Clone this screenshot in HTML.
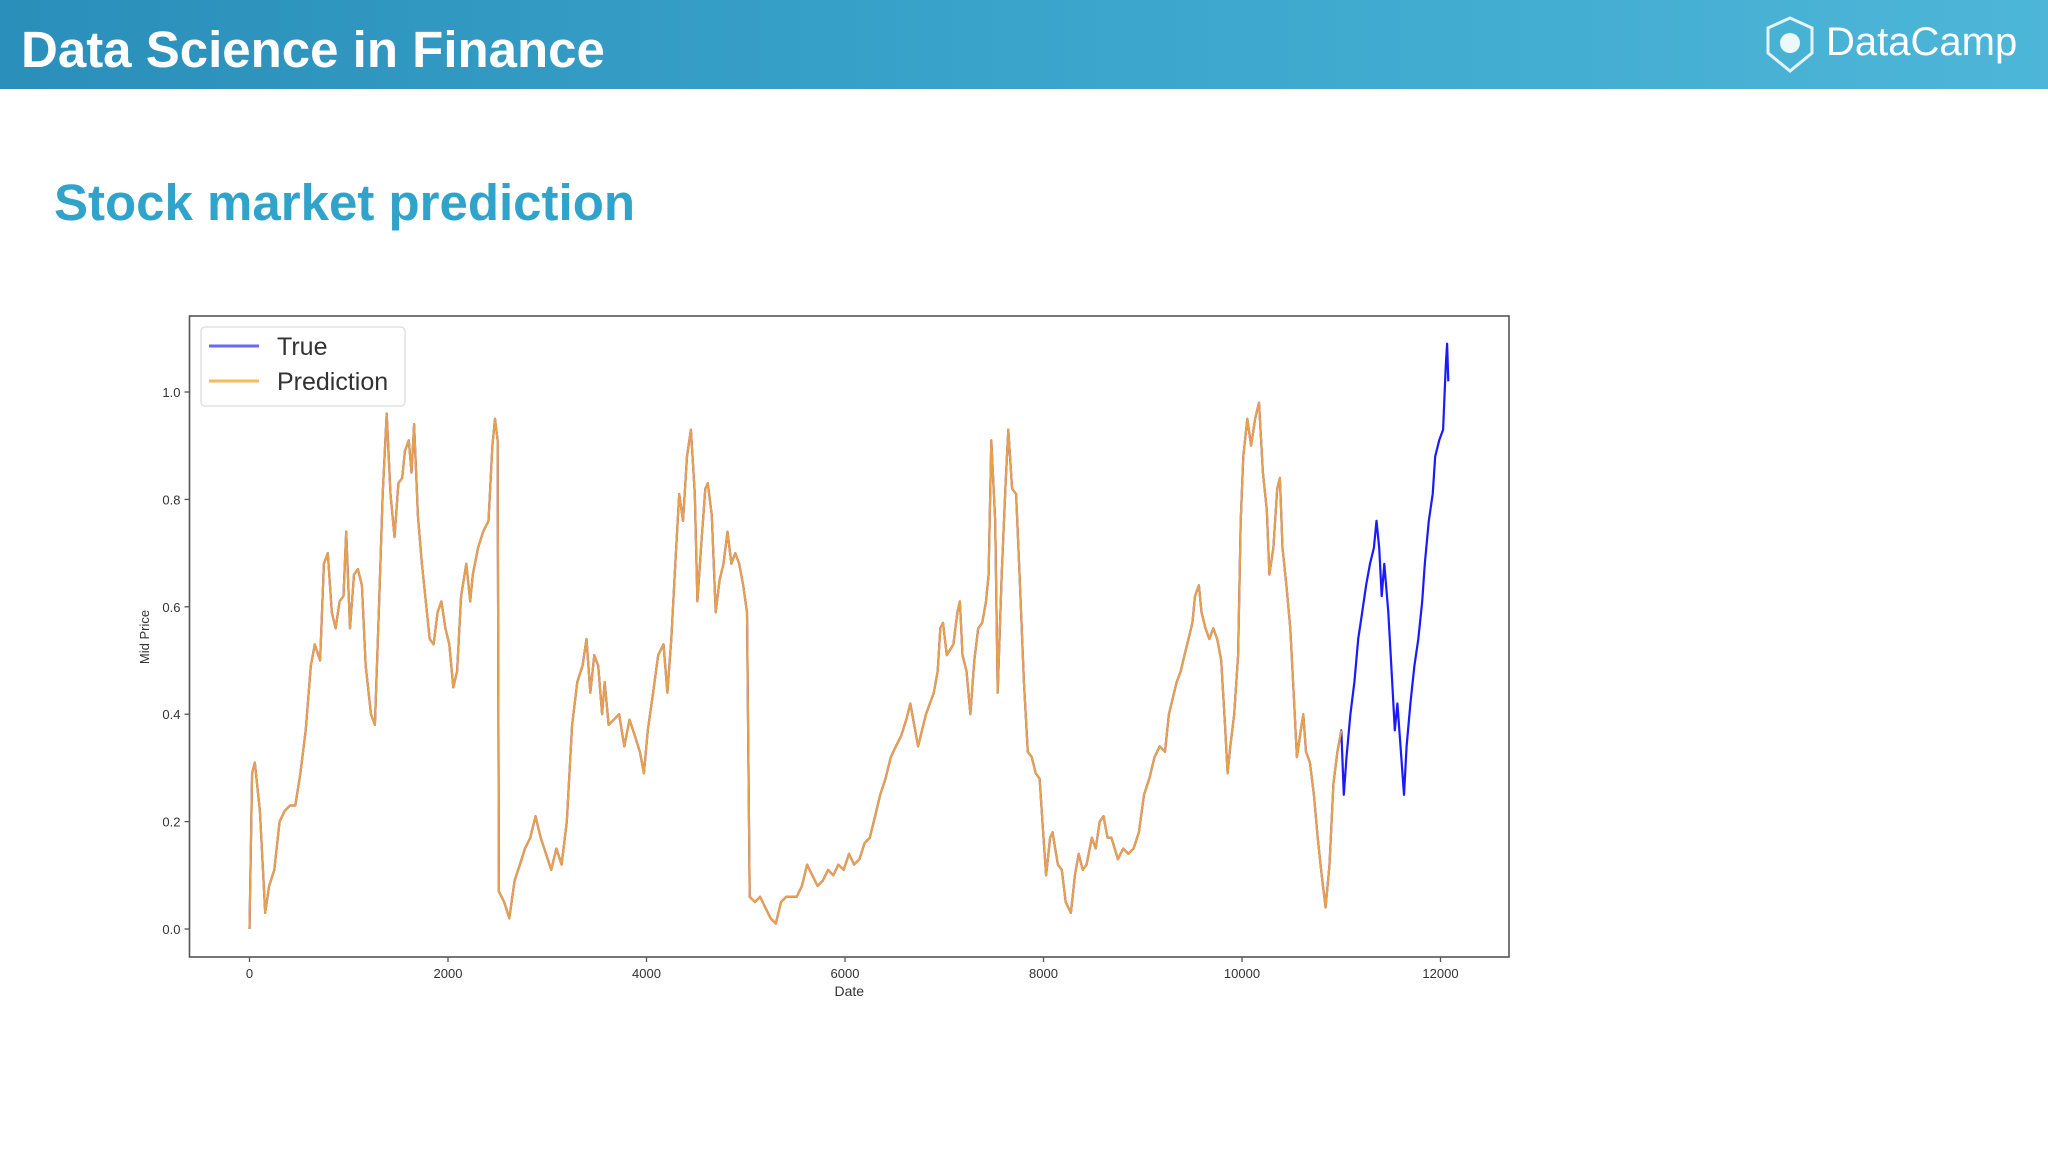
<!DOCTYPE html>
<html><head><meta charset="utf-8"><style>
html,body{margin:0;padding:0;background:#fff;}
body{width:2048px;height:1152px;position:relative;overflow:hidden;font-family:"Liberation Sans",sans-serif;}
#header{position:absolute;left:0;top:0;width:2048px;height:89px;background:linear-gradient(90deg,#2a8fba 0%,#3aa4cb 50%,#4db6d8 100%);}
#title{position:absolute;left:21px;top:20px;color:#fff;font-weight:bold;font-size:51px;}
#brand{position:absolute;left:1826px;top:20px;color:#fff;font-size:40px;}
#subtitle{position:absolute;left:54px;top:173px;color:#2fa3c9;font-weight:bold;font-size:51px;}
svg#chart{position:absolute;left:0;top:0;}
</style></head><body>
<div id="header">
<div id="title">Data Science in Finance</div>
<svg style="position:absolute;left:1762px;top:15px" width="56" height="60"><path d="M28 3 L50 13 L50 38 L28 56 L6 38 L6 13 Z" fill="none" stroke="#fff" stroke-width="3" opacity="0.85"/><circle cx="28" cy="28" r="10" fill="#fff" opacity="0.9"/></svg>
<div id="brand">DataCamp</div>
</div>
<div id="subtitle">Stock market prediction</div>
<svg id="chart" width="2048" height="1152"></svg>
<script>
const dates=[0,26,53,105,158,197,250,303,355,408,461,513,566,618,658,711,750,789,829,868,908,947,974,1013,1053,1092,1132,1171,1224,1263,1303,1342,1382,1421,1461,1500,1539,1566,1605,1632,1658,1697,1737,1776,1816,1855,1895,1934,1974,2013,2053,2092,2132,2184,2224,2250,2303,2355,2408,2447,2474,2500,2513,2566,2618,2671,2724,2776,2829,2882,2934,2987,3040,3092,3145,3197,3250,3303,3355,3395,3434,3474,3513,3553,3579,3618,3671,3724,3776,3829,3882,3934,3974,4013,4066,4118,4171,4211,4250,4290,4329,4368,4408,4447,4487,4513,4553,4592,4618,4658,4697,4737,4776,4816,4855,4895,4934,4974,5013,5040,5092,5145,5197,5250,5303,5355,5408,5461,5513,5566,5618,5671,5724,5776,5829,5882,5934,5987,6040,6092,6145,6197,6250,6303,6355,6408,6461,6513,6566,6618,6658,6697,6737,6776,6816,6855,6895,6934,6960,6987,7026,7092,7132,7158,7184,7224,7263,7303,7342,7382,7421,7447,7474,7513,7539,7579,7618,7645,7684,7724,7763,7803,7842,7882,7921,7961,8000,8026,8066,8092,8118,8145,8184,8224,8276,8316,8355,8395,8434,8487,8526,8566,8605,8645,8684,8750,8803,8855,8908,8961,9013,9066,9118,9171,9224,9263,9303,9342,9382,9421,9461,9500,9526,9566,9592,9632,9671,9711,9750,9790,9829,9855,9882,9921,9961,9987,10013,10053,10092,10132,10171,10211,10250,10276,10316,10355,10382,10408,10447,10487,10526,10553,10592,10618,10645,10684,10724,10763,10803,10842,10882,10921,10961,11000,11026,11053,11092,11132,11171,11211,11250,11290,11329,11355,11382,11408,11434,11474,11513,11540,11566,11605,11632,11658,11697,11737,11776,11816,11842,11882,11921,11947,11987,12026,12053,12066,12079];
const trueVals=[0.00,0.29,0.31,0.22,0.03,0.08,0.11,0.20,0.22,0.23,0.23,0.29,0.37,0.49,0.53,0.50,0.68,0.70,0.59,0.56,0.61,0.62,0.74,0.56,0.66,0.67,0.64,0.49,0.40,0.38,0.59,0.81,0.96,0.81,0.73,0.83,0.84,0.89,0.91,0.85,0.94,0.77,0.68,0.61,0.54,0.53,0.59,0.61,0.56,0.53,0.45,0.48,0.62,0.68,0.61,0.66,0.71,0.74,0.76,0.90,0.95,0.91,0.07,0.05,0.02,0.09,0.12,0.15,0.17,0.21,0.17,0.14,0.11,0.15,0.12,0.20,0.38,0.46,0.49,0.54,0.44,0.51,0.49,0.40,0.46,0.38,0.39,0.40,0.34,0.39,0.36,0.33,0.29,0.37,0.44,0.51,0.53,0.44,0.54,0.68,0.81,0.76,0.88,0.93,0.81,0.61,0.72,0.82,0.83,0.77,0.59,0.65,0.68,0.74,0.68,0.70,0.68,0.64,0.59,0.06,0.05,0.06,0.04,0.02,0.01,0.05,0.06,0.06,0.06,0.08,0.12,0.10,0.08,0.09,0.11,0.10,0.12,0.11,0.14,0.12,0.13,0.16,0.17,0.21,0.25,0.28,0.32,0.34,0.36,0.39,0.42,0.38,0.34,0.37,0.40,0.42,0.44,0.48,0.56,0.57,0.51,0.53,0.59,0.61,0.51,0.48,0.40,0.50,0.56,0.57,0.61,0.66,0.91,0.76,0.44,0.66,0.83,0.93,0.82,0.81,0.64,0.46,0.33,0.32,0.29,0.28,0.17,0.10,0.17,0.18,0.15,0.12,0.11,0.05,0.03,0.10,0.14,0.11,0.12,0.17,0.15,0.20,0.21,0.17,0.17,0.13,0.15,0.14,0.15,0.18,0.25,0.28,0.32,0.34,0.33,0.40,0.43,0.46,0.48,0.51,0.54,0.57,0.62,0.64,0.59,0.56,0.54,0.56,0.54,0.50,0.38,0.29,0.34,0.40,0.51,0.76,0.88,0.95,0.90,0.95,0.98,0.85,0.78,0.66,0.71,0.82,0.84,0.71,0.64,0.56,0.42,0.32,0.37,0.40,0.33,0.31,0.25,0.17,0.10,0.04,0.12,0.27,0.33,0.37,0.25,0.32,0.40,0.46,0.54,0.59,0.64,0.68,0.71,0.76,0.71,0.62,0.68,0.59,0.46,0.37,0.42,0.32,0.25,0.34,0.42,0.49,0.54,0.61,0.68,0.76,0.81,0.88,0.91,0.93,1.05,1.09,1.02];
const predEndDate=11000;
const xTicks=[0,2000,4000,6000,8000,10000,12000];
const yTicks=[0.0,0.2,0.4,0.6,0.8,1.0];
const yTickLabels=["0.0","0.2","0.4","0.6","0.8","1.0"];

const svg=document.getElementById('chart');
const NS='http://www.w3.org/2000/svg';
const L=189.5,T=316,R=1509,B=957;
function xs(d){return 249.5+(d-0)*(1440.5-249.5)/12000;}
function ys(v){return 929-v*537;}
function mk(tag,attrs){const e=document.createElementNS(NS,tag);for(const k in attrs)e.setAttribute(k,attrs[k]);svg.appendChild(e);return e;}

const frame=mk('rect',{x:L,y:T,width:R-L,height:B-T,fill:'#fff',stroke:'#555','stroke-width':1.6});



yTicks.forEach((v,i)=>{
  const t=mk('line',{x1:L-5,x2:L,y1:ys(v),y2:ys(v),stroke:'#555','stroke-width':1.3});
  
  
  const lb=mk('text',{x:L-9,y:ys(v)+5,'text-anchor':'end','font-size':13,fill:'#333','font-family':'Liberation Sans, sans-serif'});
  lb.textContent=yTickLabels[i];
  
  
});
xTicks.forEach(d=>{
  const t=mk('line',{x1:xs(d),x2:xs(d),y1:B,y2:B+5,stroke:'#555','stroke-width':1.3});
  
  
  const lb=mk('text',{x:xs(d),y:B+21,'text-anchor':'middle','font-size':13,fill:'#333','font-family':'Liberation Sans, sans-serif'});
  lb.textContent=String(d);
  
  
});
const xt=mk('text',{x:(L+R)/2,y:996,'text-anchor':'middle','font-size':14,fill:'#333','font-family':'Liberation Sans, sans-serif'});
xt.textContent='Date';


const yt=mk('text',{x:0,y:0,'text-anchor':'middle','font-size':13,fill:'#333','font-family':'Liberation Sans, sans-serif',transform:'translate(149,637) rotate(-90)'});
yt.textContent='Mid Price';



let pt='';
dates.forEach((d,i)=>{pt+=(i?'L':'M')+xs(d).toFixed(1)+' '+ys(trueVals[i]).toFixed(1);});
const tl=mk('path',{d:pt,fill:'none',stroke:'#1a1aff','stroke-width':2.2,'stroke-linejoin':'round'});


let pp='';let first=true;
dates.forEach((d,i)=>{if(d<=predEndDate){pp+=(first?'M':'L')+xs(d).toFixed(1)+' '+ys(trueVals[i]).toFixed(1);first=false;}});
const pl=mk('path',{d:pp,fill:'none',stroke:'#e9a04a','stroke-width':2.2,'stroke-linejoin':'round'});



const lg=mk('rect',{x:201,y:327,width:204,height:79,rx:4,fill:'#fff',stroke:'#ddd','stroke-width':1.3});


const l1=mk('line',{x1:209,x2:259,y1:346,y2:346,stroke:'#6a6af0','stroke-width':3});


const t1=mk('text',{x:277,y:355,'font-size':25,fill:'#333','font-family':'Liberation Sans, sans-serif'});
t1.textContent='True';


const l2=mk('line',{x1:209,x2:259,y1:381,y2:381,stroke:'#f5b95e','stroke-width':3});


const t2=mk('text',{x:277,y:390,'font-size':25,fill:'#333','font-family':'Liberation Sans, sans-serif'});
t2.textContent='Prediction';


</script>
</body></html>
